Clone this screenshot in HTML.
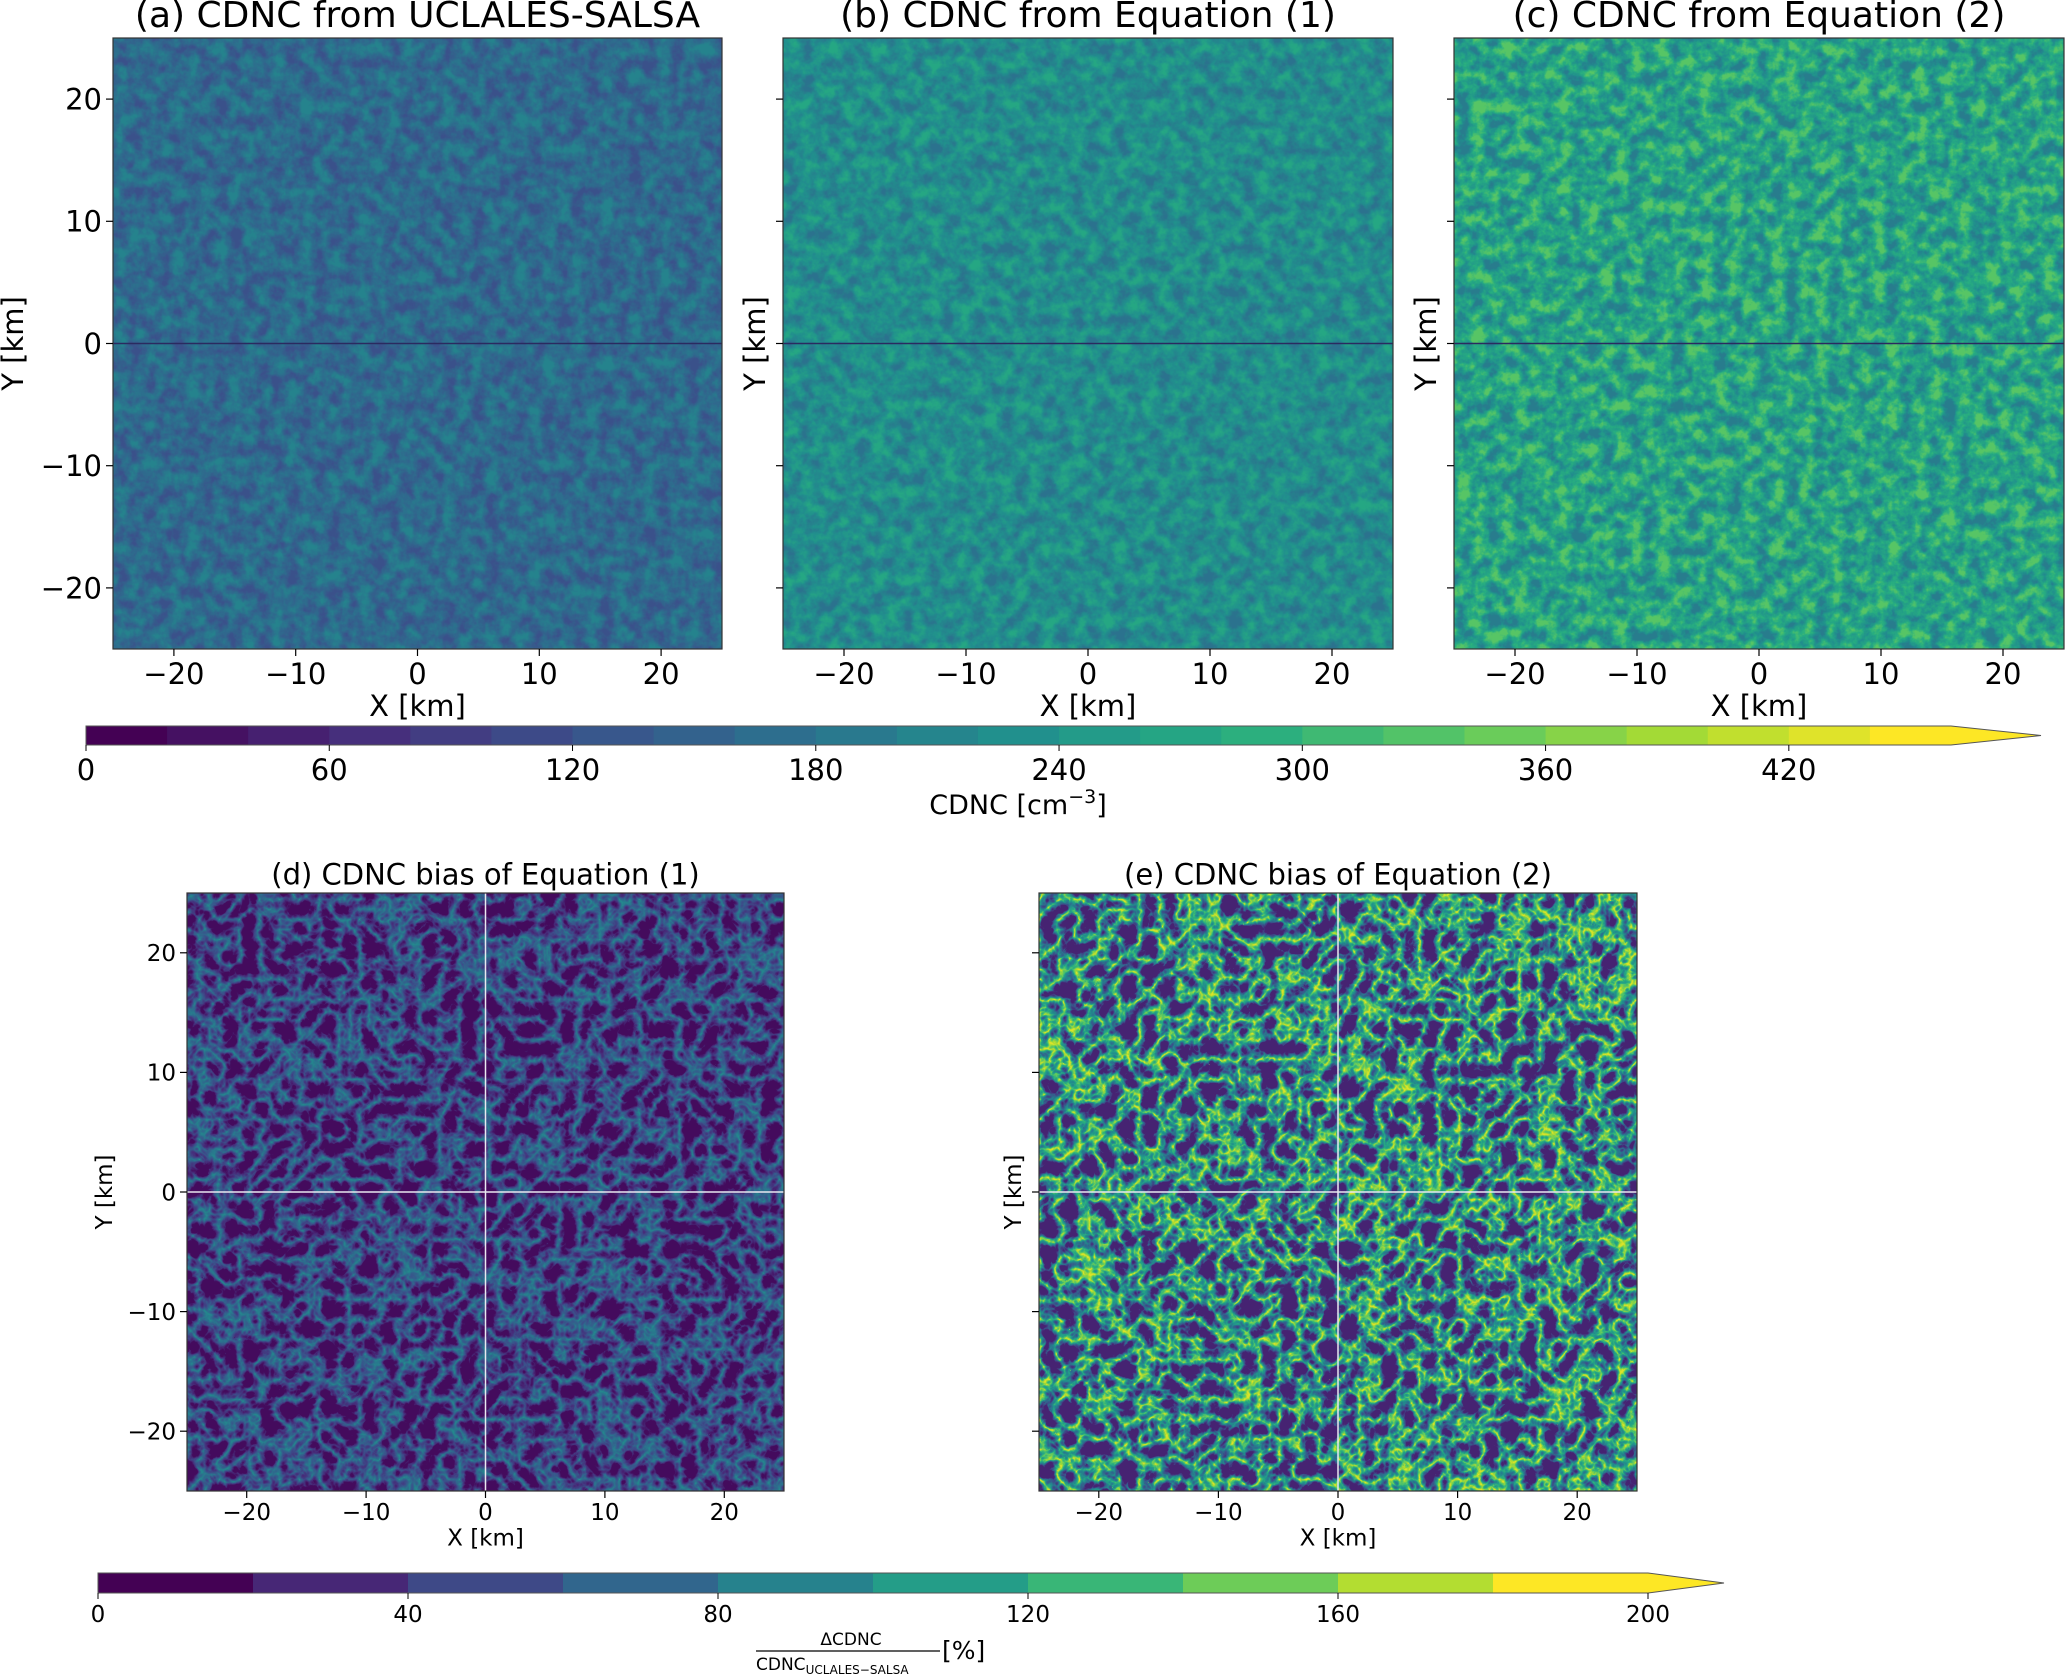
<!DOCTYPE html>
<html><head><meta charset="utf-8"><style>
html,body{margin:0;padding:0;background:#fff;}
svg{display:block;font-family:"DejaVu Sans","Liberation Sans",sans-serif;}
</style></head><body>
<svg id="fig" width="2067" height="1674" viewBox="0 0 2067 1674" xmlns="http://www.w3.org/2000/svg">
<defs id="defs"></defs>
</svg>
<script>
// ---- data ----
const xTicks = [-20, -10, 0, 10, 20];
const yTicks = [-20, -10, 0, 10, 20];
const cb1Bounds = [0,20,40,60,80,100,120,140,160,180,200,220,240,260,280,300,320,340,360,380,400,420,440,460];
const cb1TickVals = [0,60,120,180,240,300,360,420];
const cb2Bounds = [0,20,40,60,80,100,120,140,160,180,200];
const cb2TickVals = [0,40,80,120,160,200];
const panelTitles = ["(a) CDNC from UCLALES-SALSA","(b) CDNC from Equation (1)","(c) CDNC from Equation (2)","(d) CDNC bias of Equation (1)","(e) CDNC bias of Equation (2)"];

const NS="http://www.w3.org/2000/svg";
const svg=document.getElementById('fig');
const defs=document.getElementById('defs');
function mk(tag,attrs,parent){const e=document.createElementNS(NS,tag);for(const k in attrs)e.setAttribute(k,attrs[k]);(parent||svg).appendChild(e);return e;}
const V=[[68,1,84],[71,44,122],[59,81,139],[44,113,142],[33,144,141],[39,173,129],[92,200,99],[170,220,50],[253,231,37]];
function viridis(t){t=Math.max(0,Math.min(1,t));const f=t*8,i=Math.min(7,Math.floor(f)),r=f-i;return V[i].map((c,k)=>c+(V[i+1][k]-c)*r);}
function rgb(c){return 'rgb('+c.map(Math.round).join(',')+')';}

function makeFilter(id,type,freq,oct,seed,a,b,lo,hi){
  const f=mk('filter',{id:id,x:'0',y:'0',width:'100%',height:'100%','color-interpolation-filters':'sRGB'},defs);
  mk('feTurbulence',{type:type,baseFrequency:freq,numOctaves:oct,seed:seed,result:'n'},f);
  mk('feColorMatrix',{type:'matrix',values:`${a} 0 0 0 ${b}  ${a} 0 0 0 ${b}  ${a} 0 0 0 ${b}  0 0 0 0 1`},f);
  const ct=mk('feComponentTransfer',{},f);
  const N=20,tabs=[[],[],[]];
  for(let i=0;i<=N;i++){const c=viridis(lo+(hi-lo)*i/N);for(let k=0;k<3;k++)tabs[k].push((c[k]/255).toFixed(3));}
  ['feFuncR','feFuncG','feFuncB'].forEach((n,k)=>mk(n,{type:'table',tableValues:tabs[k].join(' ')},ct));
  mk('feFuncA',{type:'table',tableValues:'1 1'},ct);
}
makeFilter('fa','fractalNoise','0.07',4,3,2.0,-0.5,0.25,0.45);
makeFilter('fb','fractalNoise','0.07',4,7,2.0,-0.5,0.38,0.6);
makeFilter('fc','fractalNoise','0.07',4,11,2.2,-0.6,0.42,0.74);
makeFilter('fd','turbulence','0.05',3,5,-2.2,0.95,0.03,0.52);
makeFilter('fe','turbulence','0.05',3,9,-2.6,1.1,0.1,0.95);

function panel(p){
  const g=mk('g',{});
  
  
  const w=p.x1-p.x0,h=p.y1-p.y0;
  const sx=v=>p.x0+(v+25)/50*w, sy=v=>p.y1-(v+25)/50*h;
  const img=mk('rect',{x:p.x0,y:p.y0,width:w,height:h,filter:'url(#'+p.f+')'},g);
  
  
  mk('line',{x1:p.x0,x2:p.x1,y1:sy(0),y2:sy(0),stroke:p.zc,'stroke-width':1.5},g);
  if(p.vline)mk('line',{x1:sx(0),x2:sx(0),y1:p.y0,y2:p.y1,stroke:p.zc,'stroke-width':1.5},g);
  mk('rect',{x:p.x0,y:p.y0,width:w,height:h,fill:'none',stroke:'#333','stroke-width':1.2},g);
  xTicks.forEach(v=>{mk('line',{x1:sx(v),x2:sx(v),y1:p.y1,y2:p.y1+7,stroke:'#000','stroke-width':1.2},g);
    const t=mk('text',{x:sx(v),y:p.y1+p.fs+6,'font-size':p.fs,'text-anchor':'middle'},g);t.textContent=(v<0?'\u2212'+(-v):v);
    });
  yTicks.forEach(v=>{mk('line',{x1:p.x0-7,x2:p.x0,y1:sy(v),y2:sy(v),stroke:'#000','stroke-width':1.2},g);
    if(p.ylab){const t=mk('text',{x:p.x0-11,y:sy(v)+p.fs*0.36,'font-size':p.fs,'text-anchor':'end'},g);t.textContent=(v<0?'\u2212'+(-v):v);
    }});
  const xt=mk('text',{x:(p.x0+p.x1)/2,y:p.y1+p.fs*2.1+6,'font-size':p.fs,'text-anchor':'middle'},g);xt.textContent='X [km]';
  
  const yx=p.x0-p.yoff, yy=(p.y0+p.y1)/2;
  const yt=mk('text',{x:yx,y:yy,'font-size':p.fs,'text-anchor':'middle',transform:`rotate(-90 ${yx} ${yy})`},g);yt.textContent='Y [km]';
  
  const tt=mk('text',{x:(p.x0+p.x1)/2,y:p.y0-p.tfs*0.3,'font-size':p.tfs,'text-anchor':'middle'},g);tt.textContent=p.title;
  
}
panel({name:'panel-a',x0:113,x1:722,y0:38,y1:649,f:'fa',zc:'#2b2a60',vline:false,ylab:true,fs:29,tfs:36,yoff:90,title:panelTitles[0]});
panel({name:'panel-b',x0:783,x1:1393,y0:38,y1:649,f:'fb',zc:'#2b2a60',vline:false,ylab:false,fs:29,tfs:36,yoff:18,title:panelTitles[1]});
panel({name:'panel-c',x0:1454,x1:2064,y0:38,y1:649,f:'fc',zc:'#2b2a60',vline:false,ylab:false,fs:29,tfs:36,yoff:18,title:panelTitles[2]});
panel({name:'panel-d',x0:187,x1:784,y0:893,y1:1491,f:'fd',zc:'#e8e8f0',vline:true,ylab:true,fs:23,tfs:29,yoff:75,title:panelTitles[3]});
panel({name:'panel-e',x0:1039,x1:1637,y0:893,y1:1491,f:'fe',zc:'#e8e8f0',vline:true,ylab:false,fs:23,tfs:29,yoff:18,title:panelTitles[4]});

function colorbar(c){
  const g=mk('g',{});
  
  
  const max=c.bounds[c.bounds.length-1];
  const sx=v=>c.x0+v/max*(c.x1-c.x0);
  const n=c.bounds.length-1;
  for(let i=0;i<n;i++){
    const r=mk('rect',{x:sx(c.bounds[i]),y:c.y0,width:sx(c.bounds[i+1])-sx(c.bounds[i])+0.5,height:c.y1-c.y0,fill:rgb(viridis(i/(n-1)))},g);
    
  }
  const ym=(c.y0+c.y1)/2;
  mk('polygon',{points:`${c.x1},${c.y0} ${c.ax},${ym} ${c.x1},${c.y1}`,fill:rgb(viridis(1))},g);
  mk('polygon',{points:`${c.x0},${c.y0} ${c.x1},${c.y0} ${c.ax},${ym} ${c.x1},${c.y1} ${c.x0},${c.y1}`,fill:'none',stroke:'#555','stroke-width':1},g);
  c.ticks.forEach(v=>{mk('line',{x1:sx(v),x2:sx(v),y1:c.y1,y2:c.y1+6,stroke:'#000'},g);
    const t=mk('text',{x:sx(v),y:c.y1+c.fs+6,'font-size':c.fs,'text-anchor':'middle'},g);t.textContent=v;
    });
  return g;
}
colorbar({name:'cdnc-colorbar',x0:86,x1:1951,ax:2041,y0:726,y1:745,bounds:cb1Bounds,ticks:cb1TickVals,fs:29});
const lab1=mk('text',{x:1018,y:814,'font-size':27,'text-anchor':'middle'});

lab1.innerHTML='CDNC [cm<tspan dy="-11" font-size="19">\u22123</tspan><tspan dy="11">]</tspan>';
colorbar({name:'bias-colorbar',x0:98,x1:1648,ax:1724,y0:1573,y1:1593,bounds:cb2Bounds,ticks:cb2TickVals,fs:23});
const lg=mk('g',{});

mk('text',{x:851,y:1645,'font-size':17,'text-anchor':'middle'},lg).textContent='\u0394CDNC';
mk('line',{x1:756,x2:940,y1:1651,y2:1651,stroke:'#000','stroke-width':1.3},lg);
const den=mk('text',{x:756,y:1670,'font-size':17},lg);
den.innerHTML='CDNC<tspan dy="4" font-size="12">UCLALES\u2212SALSA</tspan>';
mk('text',{x:942,y:1659,'font-size':25},lg).textContent='[%]';
</script>
</body></html>
